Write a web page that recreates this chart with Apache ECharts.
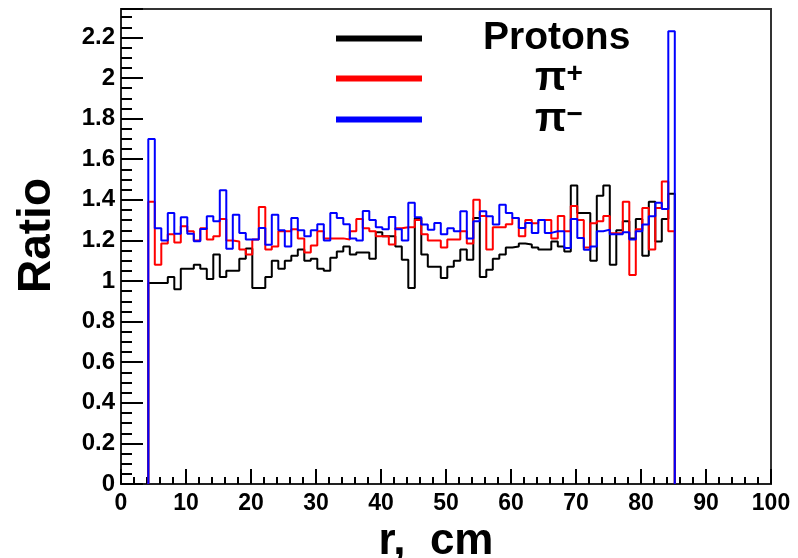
<!DOCTYPE html>
<html>
	<head>
		<meta charset="utf-8">
		<title></title>
		<script src="https://cdn.jsdelivr.net/npm/echarts@6/dist/echarts.min.js"></script>
	</head>
	<body style="margin:0">
		<div id="main" style="width: 798px;height:558px;"></div>
		<script type="text/javascript">
		// bins: 1 cm wide, first bin starts at r = 4.2 cm
		var binStart = 4.2;
		var binWidth = 1;
		var names = ['Protons', 'π+', 'π−'];
		var colors = ['#000000', '#ff0000', '#0000ff'];

		var protons = [0.99, 0.99, 0.99, 1.02, 0.96, 1.06, 1.06, 1.08, 1.06, 1.01,
			1.13, 1.02, 1.05, 1.05, 1.11, 1.16, 0.965, 0.965, 1.02, 1.10,
			1.06, 1.10, 1.125, 1.155, 1.10, 1.11, 1.06, 1.05, 1.115, 1.145,
			1.17, 1.13, 1.14, 1.14, 1.11, 1.24, 1.22, 1.22, 1.17, 1.105,
			0.965, 1.31, 1.13, 1.07, 1.07, 1.015, 1.07, 1.10, 1.155, 1.105,
			1.31, 1.02, 1.055, 1.11, 1.13, 1.165, 1.17, 1.185, 1.18, 1.165,
			1.155, 1.155, 1.195, 1.17, 1.145, 1.47, 1.335, 1.335, 1.10, 1.42,
			1.47, 1.08, 1.25, 1.295, 1.21, 1.305, 1.125, 1.39, 1.195, 1.305, 1.43];
		var piPlus = [1.39, 1.08, 1.185, 1.23, 1.19, 1.27, 1.245, 1.20, 1.26, 1.205,
			1.22, 1.305, 1.20, 1.195, 1.155, 1.13, 1.205, 1.365, 1.155, 1.17,
			1.245, 1.245, 1.255, 1.21, 1.14, 1.175, 1.245, 1.21, 1.21, 1.21,
			1.205, 1.245, 1.305, 1.26, 1.245, 1.22, 1.22, 1.18, 1.26, 1.265,
			1.265, 1.30, 1.23, 1.20, 1.20, 1.165, 1.205, 1.205, 1.245, 1.185,
			1.40, 1.32, 1.155, 1.265, 1.265, 1.28, 1.31, 1.22, 1.30, 1.285,
			1.30, 1.30, 1.21, 1.32, 1.245, 1.37, 1.30, 1.165, 1.285, 1.295,
			1.32, 1.235, 1.235, 1.39, 1.03, 1.255, 1.36, 1.155, 1.36, 1.49, 1.245];
		var piMinus = [1.70, 1.26, 1.20, 1.335, 1.233, 1.314, 1.233, 1.196, 1.256, 1.319,
			1.294, 1.447, 1.159, 1.327, 1.237, 1.204, 1.204, 1.261, 1.179, 1.327,
			1.25, 1.17, 1.31, 1.25, 1.22, 1.25, 1.28, 1.20, 1.335, 1.31,
			1.28, 1.21, 1.20, 1.345, 1.30, 1.265, 1.255, 1.315, 1.255, 1.20,
			1.385, 1.314, 1.278, 1.253, 1.286, 1.23, 1.26, 1.245, 1.344, 1.21,
			1.294, 1.344, 1.319, 1.278, 1.376, 1.335, 1.31, 1.261, 1.286, 1.237,
			1.30, 1.237, 1.245, 1.245, 1.163, 1.306, 1.212, 1.154, 1.17, 1.245,
			1.253, 1.23, 1.23, 1.24, 1.204, 1.245, 1.278, 1.319, 1.385, 1.355, 2.23];

		// histogram outline: points at bin low edges, closed down to 0 at both ends
		function steps(vals) {
			var pts = [[binStart, 0]];
			for (var i = 0; i < vals.length; i++) {
				pts.push([binStart + i * binWidth, vals[i]]);
			}
			var end = binStart + vals.length * binWidth;
			pts.push([end, vals[vals.length - 1]]);
			pts.push([end, 0]);
			return pts;
		}

		var font = '"Liberation Sans", Arial, sans-serif';
		var myChart = echarts.init(document.getElementById('main'));
		var allData = [protons, piPlus, piMinus];
		var series = [];
		for (var s = 0; s < 3; s++) {
			series.push({
				name: names[s],
				type: 'line',
				step: 'end',
				symbol: 'none',
				showSymbol: false,
				data: steps(allData[s]),
				itemStyle: { color: colors[s] },
				lineStyle: { color: colors[s], width: 2 },
				emphasis: { disabled: true }
			});
		}

		myChart.setOption({
			animation: false,
			backgroundColor: '#ffffff',
			grid: {
				left: 121, right: 27, top: 9, bottom: 74,
				outerBoundsMode: 'none',
				containLabel: false,
				show: true, borderColor: '#333', borderWidth: 2
			},
			legend: {
				orient: 'vertical',
				left: 336,
				top: 19,
				padding: 0,
				itemGap: 0,
				itemWidth: 86,
				itemHeight: 6,
				icon: 'rect',
				data: names,
				formatter: function (name) {
					if (name === 'Protons') return '{n|Protons}';
					return '{p|π}{s|' + name.slice(1) + '}';
				},
				textStyle: {
					color: '#000',
					fontFamily: font,
					fontWeight: 'bold',
					fontSize: 39,
					lineHeight: 37,
					rich: {
						n: { fontSize: 39, fontWeight: 'bold', fontFamily: font, lineHeight: 37, padding: [0, 0, 0, 56] },
						p: { fontSize: 41, fontWeight: 'bold', fontFamily: font, lineHeight: 37, padding: [0, 0, 0, 108] },
						s: { fontSize: 28, fontWeight: 'bold', fontFamily: font, lineHeight: 26, verticalAlign: 'top' }
					}
				}
			},
			xAxis: {
				type: 'value',
				min: 0,
				max: 100,
				interval: 10,
				name: 'r,  cm',
				nameLocation: 'middle',
				nameGap: 23,
				nameTextStyle: { color: '#000', fontFamily: font, fontWeight: 'bold', fontSize: 44, padding: [0, 20, 0, 0] },
				axisLine: { show: true, onZero: false, lineStyle: { color: '#222', width: 2 } },
				axisTick: { inside: true, length: 15, lineStyle: { color: '#000', width: 2 } },
				minorTick: { show: true, splitNumber: 5, length: 7, lineStyle: { color: '#000', width: 2 } },
				axisLabel: { color: '#000', fontFamily: font, fontWeight: 'bold', fontSize: 23, margin: 8 },
				splitLine: { show: false }
			},
			yAxis: {
				type: 'value',
				min: 0,
				max: 2.34,
				interval: 0.2,
				name: 'Ratio',
				nameLocation: 'middle',
				nameGap: 61,
				nameTextStyle: { color: '#000', fontFamily: font, fontWeight: 'bold', fontSize: 46, padding: [0, 0, 0, 22] },
				axisLine: { show: true, onZero: false, lineStyle: { color: '#222', width: 2 } },
				axisTick: { inside: true, length: 22, lineStyle: { color: '#000', width: 2 } },
				minorTick: { show: true, splitNumber: 4, length: 11, lineStyle: { color: '#000', width: 2 } },
				axisLabel: {
					color: '#000', fontFamily: font, fontWeight: 'bold', fontSize: 24, margin: 6,
					showMaxLabel: false,
					formatter: function (v) { return String(Math.round(v * 10) / 10); }
				},
				splitLine: { show: false }
			},
			series: series
		});
		</script>
	</body>
</html>
